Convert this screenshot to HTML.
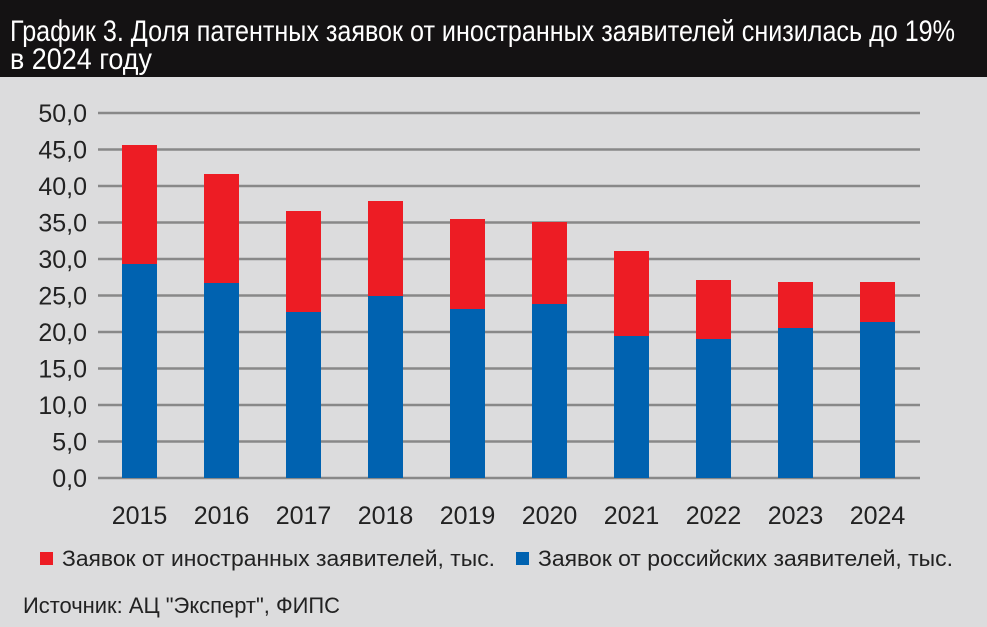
<!DOCTYPE html>
<html><head><meta charset="utf-8"><style>
html,body{margin:0;padding:0;background:#dcdcdd;}
svg{display:block;font-family:"Liberation Sans Narrow","Liberation Sans",sans-serif;}
</style></head><body>
<svg width="987" height="627" viewBox="0 0 987 627" xmlns="http://www.w3.org/2000/svg">
<rect x="0" y="0" width="987" height="627" fill="#dcdcdd"/>
<rect x="0" y="0" width="987" height="77" fill="#141213"/>
<text x="10" y="41" fill="#fff" font-size="30" textLength="945" lengthAdjust="spacingAndGlyphs">График 3. Доля патентных заявок от иностранных заявителей снизилась до 19%</text>
<text x="10" y="69" fill="#fff" font-size="30" textLength="142" lengthAdjust="spacingAndGlyphs">в 2024 году</text>
<g stroke="#888" stroke-width="2.5">
<line x1="98" x2="920" y1="113" y2="113"/>
<line x1="98" x2="920" y1="149.5" y2="149.5"/>
<line x1="98" x2="920" y1="186" y2="186"/>
<line x1="98" x2="920" y1="222.5" y2="222.5"/>
<line x1="98" x2="920" y1="259" y2="259"/>
<line x1="98" x2="920" y1="295.5" y2="295.5"/>
<line x1="98" x2="920" y1="332" y2="332"/>
<line x1="98" x2="920" y1="368.5" y2="368.5"/>
<line x1="98" x2="920" y1="405" y2="405"/>
<line x1="98" x2="920" y1="441.5" y2="441.5"/>
<line x1="98" x2="920" y1="478" y2="478"/>
</g>
<g font-size="25" fill="#222" text-anchor="end">
<text x="87" y="122">50,0</text><text x="87" y="158.5">45,0</text><text x="87" y="195">40,0</text>
<text x="87" y="231.5">35,0</text><text x="87" y="268">30,0</text><text x="87" y="304.5">25,0</text>
<text x="87" y="341">20,0</text><text x="87" y="377.5">15,0</text><text x="87" y="414">10,0</text>
<text x="87" y="450.5">5,0</text><text x="87" y="487">0,0</text>
</g>
<g>
<rect x="122" y="145" width="35" height="119" fill="#ed1c24"/><rect x="122" y="264" width="35" height="214" fill="#0062b0"/>
<rect x="204" y="174" width="35" height="109" fill="#ed1c24"/><rect x="204" y="283" width="35" height="195" fill="#0062b0"/>
<rect x="286" y="211" width="35" height="101" fill="#ed1c24"/><rect x="286" y="312" width="35" height="166" fill="#0062b0"/>
<rect x="368" y="201" width="35" height="95" fill="#ed1c24"/><rect x="368" y="296" width="35" height="182" fill="#0062b0"/>
<rect x="450" y="219" width="35" height="90" fill="#ed1c24"/><rect x="450" y="309" width="35" height="169" fill="#0062b0"/>
<rect x="532" y="222" width="35" height="82" fill="#ed1c24"/><rect x="532" y="304" width="35" height="174" fill="#0062b0"/>
<rect x="614" y="251" width="35" height="85" fill="#ed1c24"/><rect x="614" y="336" width="35" height="142" fill="#0062b0"/>
<rect x="696" y="280" width="35" height="59" fill="#ed1c24"/><rect x="696" y="339" width="35" height="139" fill="#0062b0"/>
<rect x="778" y="282" width="35" height="46" fill="#ed1c24"/><rect x="778" y="328" width="35" height="150" fill="#0062b0"/>
<rect x="860" y="282" width="35" height="40" fill="#ed1c24"/><rect x="860" y="322" width="35" height="156" fill="#0062b0"/>
</g>
<g font-size="25" fill="#222" text-anchor="middle">
<text x="139.5" y="524">2015</text><text x="221.5" y="524">2016</text><text x="303.5" y="524">2017</text>
<text x="385.5" y="524">2018</text><text x="467.5" y="524">2019</text><text x="549.5" y="524">2020</text>
<text x="631.5" y="524">2021</text><text x="713.5" y="524">2022</text><text x="795.5" y="524">2023</text>
<text x="877.5" y="524">2024</text>
</g>
<rect x="40" y="552" width="13" height="13" fill="#ed1c24"/>
<text x="62" y="566" font-size="22" fill="#222" textLength="433" lengthAdjust="spacingAndGlyphs">Заявок от иностранных заявителей, тыс.</text>
<rect x="516" y="552" width="13" height="13" fill="#0062b0"/>
<text x="538" y="566" font-size="22" fill="#222" textLength="415" lengthAdjust="spacingAndGlyphs">Заявок от российских заявителей, тыс.</text>
<text x="23" y="613" font-size="22" fill="#222" textLength="317" lengthAdjust="spacingAndGlyphs">Источник: АЦ "Эксперт", ФИПС</text>
</svg>
</body></html>
